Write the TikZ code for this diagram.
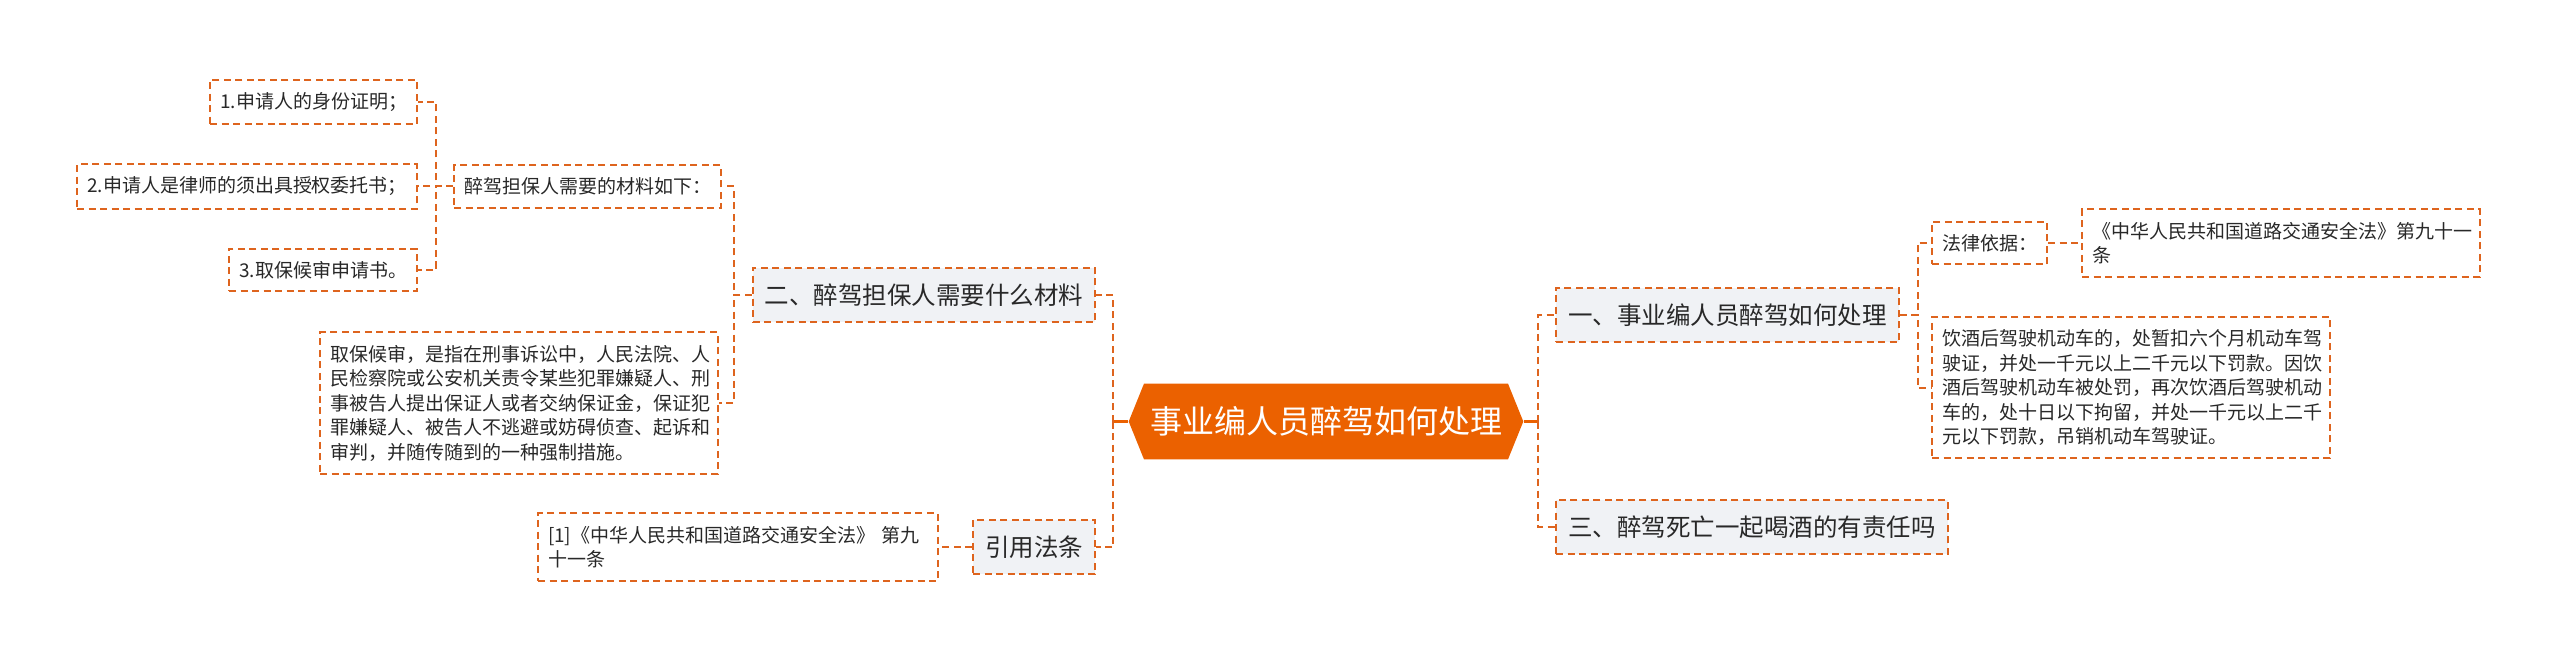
\documentclass[tikz,border=0pt]{standalone}
\usepackage{fontspec}
\setmainfont{Noto Sans CJK SC}
\usetikzlibrary{shapes.symbols}
\definecolor{mmorange}{RGB}{235,97,0}
\definecolor{mmdash}{RGB}{222,100,30}
\definecolor{mmgray}{RGB}{240,242,245}
\definecolor{mmtext}{RGB}{40,40,40}

\begin{document}
\begin{tikzpicture}[x=1pt, y=-1pt,
    topic/.style={shape=signal, signal to=east and west, signal pointer angle=136, fill=mmorange, text=white, font=\fontsize{32}{38}\selectfont, inner xsep=6pt, inner ysep=23pt},
    branch/.style={draw=mmdash, line width=2pt, dash pattern=on 7pt off 4.5pt, fill=mmgray, text=mmtext, font=\fontsize{24.5}{30}\selectfont, inner xsep=12pt, inner ysep=16pt},
    leaf/.style={draw=mmdash, line width=2pt, dash pattern=on 7pt off 4.5pt, text=mmtext, font=\fontsize{19}{24.5}\selectfont, inner xsep=10pt, inner ysep=12.5pt},
    para/.style={leaf, text width=#1, align=left},
    link/.style={draw=mmdash, line width=2pt, dash pattern=on 7pt off 4.5pt},
    stub/.style={draw=mmorange, line width=3pt}]
    \useasboundingbox (0,0) rectangle (2560,663);

    \node[topic] (c) at (1326,421.5) {事业编人员醉驾如何处理};

    \node[branch, anchor=west] (b1) at (1555,315) {一、事业编人员醉驾如何处理};
    \node[branch, anchor=west] (b3) at (1555,527) {三、醉驾死亡一起喝酒的有责任吗};
    \node[branch, anchor=east] (b2) at (1096,295) {二、醉驾担保人需要什么材料};
    \node[branch, anchor=east] (b4) at (1096,547) {引用法条};

    \node[leaf, anchor=west] (law) at (1931,243) {法律依据：};
    \node[para=378pt, anchor=west] (lawtext) at (2081,243) {《中华人民共和国道路交通安全法》第九十一\\条};
    \node[para=378pt, anchor=west] (drunk) at (1931,387.5) {饮酒后驾驶机动车的，处暂扣六个月机动车驾\\驶证，并处一千元以上二千元以下罚款。因饮\\酒后驾驶机动车被处罚，再次饮酒后驾驶机动\\车的，处十日以下拘留，并处一千元以上二千\\元以下罚款，吊销机动车驾驶证。};

    \node[leaf, anchor=west] (m) at (453,186.5) {醉驾担保人需要的材料如下：};
    \node[para=378pt, anchor=east] (bail) at (719,403) {取保候审，是指在刑事诉讼中，人民法院、人\\民检察院或公安机关责令某些犯罪嫌疑人、刑\\事被告人提出保证人或者交纳保证金，保证犯\\罪嫌疑人、被告人不逃避或妨碍侦查、起诉和\\审判，并随传随到的一种强制措施。};
    \node[leaf, anchor=east] (i1) at (418,102) {1.申请人的身份证明；};
    \node[leaf, anchor=east] (i2) at (418,186.5) {2.申请人是律师的须出具授权委托书；};
    \node[leaf, anchor=east] (i3) at (418,270) {3.取保候审申请书。};

    \node[para=380pt, anchor=east] (ref) at (939,547) {[1]《中华人民共和国道路交通安全法》~第九\\十一条};

    \coordinate (lj) at (1113,421.5);
    \coordinate (rj) at (1538,421.5);
    \draw[stub] (c.west) -- (lj);
    \draw[stub] (c.east) -- (rj);
    \draw[link] (lj) |- (b2.east);
    \draw[link] (lj) |- (b4.east);
    \draw[link] (rj) |- (b1.west);
    \draw[link] (rj) |- (b3.west);

    \draw[link] (b1.east) -- ++(18,0) |- (law.west);
    \draw[link] (b1.east) -- ++(18,0) |- (drunk.west);
    \draw[link] (law.east) -- (lawtext.west);

    \draw[link] (b2.west) -- ++(-18,0) |- (m.east);
    \draw[link] (b2.west) -- ++(-18,0) |- (bail.east);
    \draw[link] (m.west) -- ++(-17,0) |- (i1.east);
    \draw[link] (m.west) -- ++(-17,0) |- (i2.east);
    \draw[link] (m.west) -- ++(-17,0) |- (i3.east);

    \draw[link] (b4.west) -- (ref.east);
\end{tikzpicture}
\end{document}
